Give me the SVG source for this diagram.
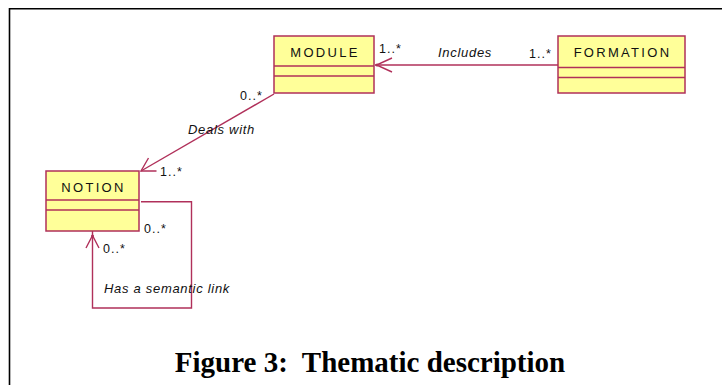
<svg xmlns="http://www.w3.org/2000/svg" width="722" height="385" viewBox="0 0 722 385">
<style>
.box{fill:#FFFF99;stroke:#B0305A;stroke-width:1.5}
.div{stroke:#B0305A;stroke-width:1.5}
.cn{font-family:"Liberation Sans",Arial,sans-serif;font-size:13px;letter-spacing:2.3px;fill:#111;text-anchor:middle}
.ln{fill:none;stroke:#B0305A;stroke-width:1.4}
.lb{font-family:"Liberation Sans",Arial,sans-serif;font-size:12.5px;letter-spacing:1px;fill:#111}
.it{font-family:"Liberation Sans",Arial,sans-serif;font-size:13px;font-style:italic;letter-spacing:0.7px;fill:#111}
.dot{fill:#B0305A}
</style>
<rect width="722" height="385" fill="#fff"/>
<path d="M9.5,385 V8.7 H722" fill="none" stroke="#000" stroke-width="1.6"/>
<g id="connectors">
  <g id="includes">
    <path class="ln" d="M558,65 H375"/>
    <path class="ln" d="M392,58 L376.5,65 L392,72"/>
    <circle class="dot" cx="377" cy="65" r="1.5"/>
    <text class="lb" x="379" y="53">1..*</text>
    <text class="it" x="438" y="57">Includes</text>
    <text class="lb" x="529" y="58">1..*</text>
  </g>
  <g id="dealswith">
    <path class="ln" d="M274,94 L141,171"/>
    <path class="ln" d="M148.5,158 L141,171 L156.5,171"/>
    <text class="lb" x="240" y="100">0..*</text>
    <text class="it" x="188" y="134">Deals with</text>
    <text class="lb" x="160" y="176">1..*</text>
  </g>
  <g id="semantic">
    <path class="ln" d="M141,201.7 H191.5 V308 H92.5 V231"/>
    <path class="ln" d="M86,248 L92.5,235.5 L99,248"/>
    <circle class="dot" cx="92.5" cy="236" r="1.5"/>
    <text class="lb" x="144" y="233">0..*</text>
    <text class="lb" x="103" y="253">0..*</text>
    <text class="it" x="104" y="293">Has a semantic link</text>
  </g>
</g>
<g id="MODULE">
  <rect class="box" x="274" y="36" width="100" height="57"/>
  <line class="div" x1="274" y1="66" x2="374" y2="66"/>
  <line class="div" x1="274" y1="76" x2="374" y2="76"/>
  <text class="cn" x="325" y="57">MODULE</text>
</g>
<g id="FORMATION">
  <rect class="box" x="558" y="36" width="127" height="57"/>
  <line class="div" x1="558" y1="67.5" x2="685" y2="67.5"/>
  <line class="div" x1="558" y1="77.5" x2="685" y2="77.5"/>
  <text class="cn" x="622.5" y="57">FORMATION</text>
</g>
<g id="NOTION">
  <rect class="box" x="46" y="171" width="93" height="60"/>
  <line class="div" x1="46" y1="200" x2="139" y2="200"/>
  <line class="div" x1="46" y1="210" x2="139" y2="210"/>
  <text class="cn" x="93.5" y="192">NOTION</text>
</g>
<text x="370" y="372" xml:space="preserve" text-anchor="middle" font-family="'Liberation Serif','Times New Roman',serif" font-weight="bold" font-size="29" fill="#000">Figure 3:  Thematic description</text>
</svg>
